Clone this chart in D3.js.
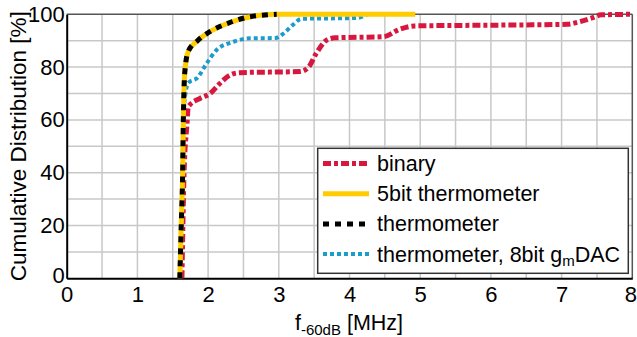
<!DOCTYPE html>
<html>
<head>
<meta charset="utf-8">
<script src="https://cdn.jsdelivr.net/npm/d3@7"></script>
<style>
  body { margin: 0; background: #fff; }
  svg { display: block; font-family: 'Liberation Sans', Arial, sans-serif; }
</style>
</head>
<body>
<div id="chart"></div>
<script>
// f_-60dB [MHz] vs cumulative distribution [%]
const binary = [
  [1.63, 0], [1.66, 40], [1.70, 58], [1.72, 65], [1.89, 68.2], [2.03, 70],
  [2.17, 73.9], [2.31, 77], [2.45, 77.9], [3.3, 78.3], [3.42, 80], [3.53, 85.2],
  [3.68, 90.3], [3.8, 91.1], [4.48, 91.5], [4.71, 94.3], [4.92, 95.6],
  [6.13, 95.9], [7.07, 96.2], [7.26, 97.2], [7.45, 98.8], [7.56, 99.8], [8, 100]
];
const thermo5bit = [
  [1.60, 0], [1.62, 20], [1.64, 40], [1.65, 60], [1.67, 78], [1.72, 86],
  [1.85, 90], [2.0, 93], [2.3, 96.8], [2.6, 99.1], [2.95, 100], [4.93, 100]
];
const thermometer = [
  [1.60, 0], [1.62, 20], [1.64, 40], [1.65, 60], [1.67, 78], [1.72, 86],
  [1.85, 90], [2.0, 93], [2.3, 96.8], [2.6, 99.1], [2.97, 100]
];
const thermo8bitGm = [
  [1.60, 0], [1.63, 30], [1.65, 60], [1.68, 70], [1.72, 74], [1.85, 76],
  [1.97, 81], [2.12, 86.5], [2.36, 89.6], [2.6, 90.9], [2.95, 91], [3.06, 92.6],
  [3.2, 96], [3.32, 98.3], [4.1, 98.6], [4.25, 100]
];
const xTicks = [0, 1, 2, 3, 4, 5, 6, 7, 8];
const yTicks = [0, 20, 40, 60, 80, 100];

const W = 637, H = 337;
const m = { left: 66.7, top: 14.3, right: 4.7, bottom: 58.7 };
const iw = W - m.left - m.right, ih = H - m.top - m.bottom;

const svg = d3.select('#chart').append('svg').attr('width', W).attr('height', H);
const x = d3.scaleLinear().domain([0, 8]).range([m.left, m.left + iw]);
const y = d3.scaleLinear().domain([0, 100]).range([m.top + ih, m.top]);

// grid
const grid = svg.append('g').attr('stroke', '#c8c8c8').attr('stroke-width', 1.5);
grid.selectAll('.gx').data(d3.range(0.5, 8, 0.5)).join('line')
  .attr('x1', d => x(d)).attr('x2', d => x(d)).attr('y1', y(0)).attr('y2', y(100));
grid.selectAll('.gy').data(d3.range(10, 100, 10)).join('line')
  .attr('y1', d => y(d)).attr('y2', d => y(d)).attr('x1', x(0)).attr('x2', x(8));

// frame top/right
svg.append('line').attr('x1', x(0)).attr('x2', x(8)).attr('y1', y(100)).attr('y2', y(100))
  .attr('stroke', '#555').attr('stroke-width', 1.5);
svg.append('line').attr('x1', x(8)).attr('x2', x(8)).attr('y1', y(0)).attr('y2', y(100))
  .attr('stroke', '#555').attr('stroke-width', 1.5);

// axes
const xAxis = svg.append('g').attr('transform', `translate(0,${y(0)})`)
  .call(d3.axisBottom(x).tickValues(xTicks).tickSize(0).tickPadding(8).tickFormat(d3.format('d')));
const yAxis = svg.append('g').attr('transform', `translate(${x(0)},0)`)
  .call(d3.axisLeft(y).tickValues(yTicks).tickSize(0).tickPadding(2));
[xAxis, yAxis].forEach(a => {
  a.select('.domain').attr('stroke', '#000').attr('stroke-width', 2);
  a.selectAll('.tick text').attr('font-size', 22).attr('fill', '#000')
    .attr('font-family', "'Liberation Sans', Arial, sans-serif");
});
// lift the y "0" a little so it clears the x "0"
yAxis.selectAll('.tick text').filter(d => d === 0).attr('y', -3);
// keep the clipped "8" inside the page
xAxis.selectAll('.tick text').filter(d => d === 8).attr('x', -2);

// series
const line = d3.line().x(d => x(d[0])).y(d => y(d[1])).curve(d3.curveMonotoneX);
const series = [
  { name: 'binary', data: binary, color: '#d8173f', width: 5, dash: '8,3,4,3' },
  { name: '5bit thermometer', data: thermo5bit, color: '#ffcc00', width: 5, dash: null },
  { name: 'thermometer', data: thermometer, color: '#000', width: 5, dash: '6,6' },
  { name: 'thermometer, 8bit g', sub: 'm', tail: 'DAC', data: thermo8bitGm, color: '#1a9ccc', width: 4, dash: '4,3' }
];
const drawOrder = [0, 3, 1, 2];
drawOrder.forEach(i => {
  const s = series[i];
  svg.append('path').attr('d', line(s.data)).attr('fill', 'none')
    .attr('stroke', s.color).attr('stroke-width', s.width)
    .attr('stroke-dasharray', s.dash);
});

// legend
const lg = svg.append('g');
lg.append('rect').attr('x', 317.7).attr('y', 148.3).attr('width', 310.6).attr('height', 125)
  .attr('fill', '#fff').attr('stroke', '#333').attr('stroke-width', 1.5);
series.forEach((s, i) => {
  const ly = 163.5 + i * 30.2;
  lg.append('line').attr('x1', 323).attr('x2', 369).attr('y1', ly).attr('y2', ly)
    .attr('stroke', s.color).attr('stroke-width', s.width).attr('stroke-dasharray', s.dash);
  const t = lg.append('text').attr('x', 377).attr('y', ly + 7.5).attr('font-size', 21.5).attr('fill', '#000');
  t.append('tspan').text(s.name);
  if (s.sub) {
    t.append('tspan').attr('font-size', 15).attr('dy', 4).text(s.sub);
    t.append('tspan').attr('dy', -4).text(s.tail);
  }
});

// axis titles
svg.append('text').attr('transform', `translate(26,${y(50)}) rotate(-90)`)
  .attr('text-anchor', 'middle').attr('font-size', 22.5).text('Cumulative Distribution [%]');
const xt = svg.append('text').attr('x', 349).attr('y', 330).attr('text-anchor', 'middle').attr('font-size', 21.5);
xt.append('tspan').text('f');
xt.append('tspan').attr('font-size', 15).attr('dy', 5).text('-60dB');
xt.append('tspan').attr('dy', -5).text(' [MHz]');
</script>
</body>
</html>
